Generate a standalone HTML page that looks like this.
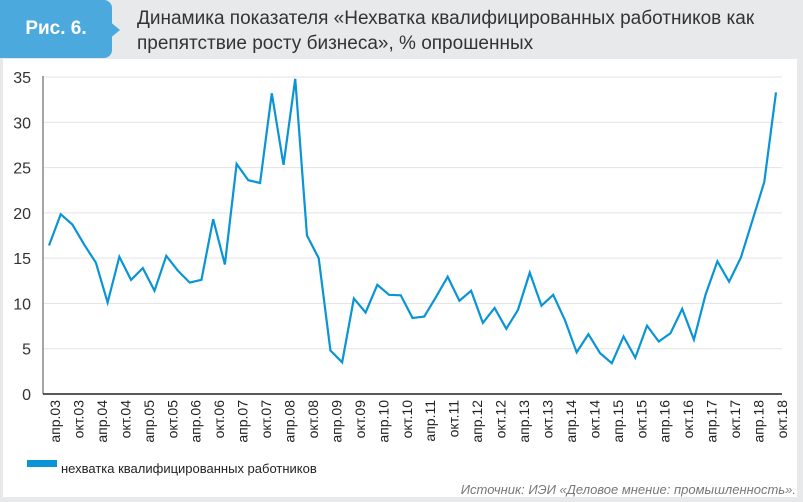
<!DOCTYPE html>
<html><head><meta charset="utf-8">
<style>
body{margin:0;background:#fff;}
#wrap{position:relative;width:803px;height:502px;background:#e8e9ea;overflow:hidden;font-family:"Liberation Sans","DejaVu Sans",sans-serif;}
#panel{position:absolute;left:3px;top:59px;width:794px;height:438px;background:#fff;}
#tab{position:absolute;left:0;top:0;width:112px;height:58px;background:#4ba9de;border-radius:0 8px 8px 0;}
#tabtxt{position:absolute;left:0;top:0;width:112px;height:58px;line-height:58px;text-align:center;color:#fff;font-weight:bold;font-size:19px;}
#title{position:absolute;left:137px;top:6px;font-size:19px;line-height:25px;color:#333;}
#src{position:absolute;right:7px;top:482px;font-size:13px;color:#777;font-style:italic;}
</style></head><body>
<div id="wrap">
<div id="tab"></div>
<svg style="position:absolute;left:108px;top:20px" width="14" height="20"><polygon points="0,0 12,10 0,20" fill="#4ba9de"/></svg>
<div id="tabtxt">Рис. 6.</div>
<div id="title">Динамика показателя «Нехватка квалифицированных работников как<br>препятствие росту бизнеса», % опрошенных</div>
<div id="panel"></div>
<svg id="chart" style="position:absolute;left:0;top:0" width="803" height="502"></svg>
<div id="src">Источник: ИЭИ «Деловое мнение: промышленность».</div>
</div>
<script>
const values=[16.4,19.85,18.7,16.5,14.5,10.1,15.15,12.6,13.9,11.4,15.25,13.6,12.3,12.6,19.3,14.3,25.4,23.6,23.3,33.2,25.3,34.8,17.5,15.0,4.8,3.5,10.55,9.0,12.05,10.95,10.9,8.4,8.55,10.7,12.95,10.3,11.4,7.85,9.5,7.2,9.3,13.4,9.75,10.95,8.15,4.6,6.6,4.5,3.4,6.35,4.0,7.55,5.8,6.7,9.4,6.0,11.0,14.65,12.4,15.05,19.2,23.4,33.3];
const yTicks=[0,5,10,15,20,25,30,35];
const xLabels=[];
for(let y=3;y<=18;y++){const s=(y<10?'0':'')+y;xLabels.push('апр.'+s);xLabels.push('окт.'+s);}
const seriesName='нехватка квалифицированных работников';

const NS='http://www.w3.org/2000/svg';
const svg=document.getElementById('chart');
const x0=43,x1=782,yB=394,yT=77;
const step=(776-49)/62;
const xs=i=>49+i*step;
const ys=v=>yB-(v/35)*(yB-yT);
function mk(t,a){const e=document.createElementNS(NS,t);for(const k in a)e.setAttribute(k,a[k]);svg.appendChild(e);return e;}
yTicks.forEach(t=>{
  if(t>0){const g=mk('line',{x1:x0,x2:x1,y1:ys(t),y2:ys(t),stroke:'#e3e3e3','stroke-width':1});
  
  }
  const tx=mk('text',{x:31,y:ys(t)+6,'text-anchor':'end','font-size':16,fill:'#333','font-family':'Liberation Sans, sans-serif'});
  tx.textContent=t;
  
  
});
const ya=mk('line',{x1:x0,x2:x0,y1:yT-1,y2:yB,stroke:'#888','stroke-width':1.5});


const xa=mk('line',{x1:x0,x2:x1,y1:yB,y2:yB,stroke:'#222','stroke-width':1.5});


xLabels.forEach((l,k)=>{
  const cx=xs(k*2)+11;
  const tx=mk('text',{x:0,y:0,transform:`translate(${cx},${400}) rotate(-90)`,'text-anchor':'end','font-size':14,fill:'#222','font-family':'Liberation Sans, sans-serif'});
  tx.textContent=l;
  
  
});
const pl=mk('polyline',{points:values.map((v,i)=>xs(i)+','+ys(v)).join(' '),fill:'none',stroke:'#0995d5','stroke-width':2.2,'stroke-linejoin':'miter'});


const sw=mk('rect',{x:27,y:460,width:30,height:7,fill:'#0995d5'});


const lt=mk('text',{x:61,y:473,'font-size':13,fill:'#222','font-family':'Liberation Sans, sans-serif'});
lt.textContent=seriesName;


</script>
</body></html>
